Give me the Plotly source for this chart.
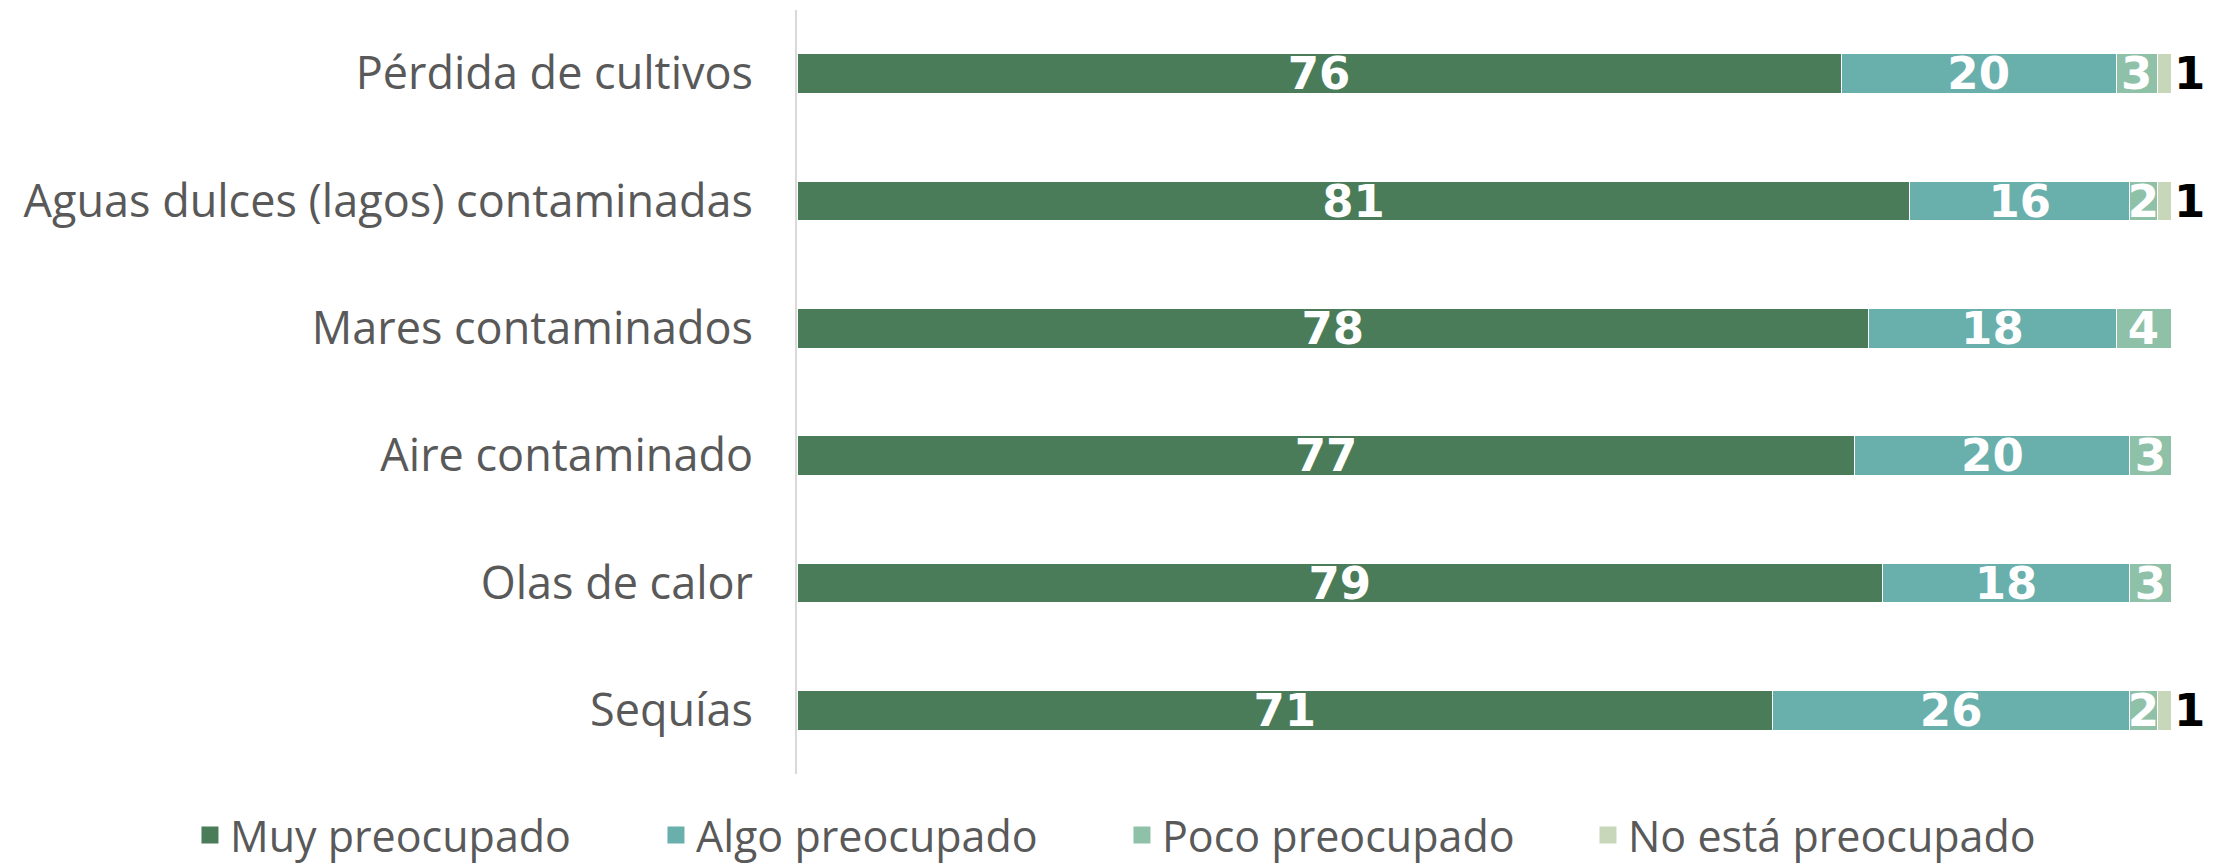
"""Stacked horizontal bars: preocupación por efectos del cambio climático."""

import plotly.graph_objects as go

categories = [
    "Pérdida de cultivos",
    "Aguas dulces (lagos) contaminadas",
    "Mares contaminados",
    "Aire contaminado",
    "Olas de calor",
    "Sequías",
]
muy = [76, 81, 78, 77, 79, 71]
algo = [20, 16, 18, 20, 18, 26]
poco = [3, 2, 4, 3, 3, 2]
nada = [1, 1, 0, 0, 0, 1]

series_names = ["Muy preocupado", "Algo preocupado", "Poco preocupado", "No está preocupado"]
series_colors = ["#4A7C59", "#69AFAC", "#8FC1A9", "#C8D7BA"]

LABEL_GREY = "#595959"
FONT = "Open Sans, sans-serif"
LABEL_FONT = "DejaVu Sans, sans-serif"

fig = go.Figure()
for name, vals, color in zip(series_names, [muy, algo, poco, nada], series_colors):
    last = name == "No está preocupado"
    fig.add_trace(go.Bar(
        y=categories,
        x=vals,
        name=name,
        orientation="h",
        marker=dict(color=color, line=dict(color="white", width=1)),
        text=[str(v) if v else "" for v in vals],
        textposition="outside" if last else "inside",
        insidetextanchor="middle",
        textangle=0,
        constraintext="none",
        cliponaxis=False,
        textfont=dict(family=LABEL_FONT, size=45, weight="bold",
                      color="black" if last else "white"),
        showlegend=False,
        hoverinfo="skip",
    ))

# legend-only entries, so the legend squares can be drawn a bit larger
for name, color in zip(series_names, series_colors):
    fig.add_trace(go.Bar(
        y=[None], x=[None],
        name=name,
        orientation="h",
        marker=dict(color=color, line=dict(color=color, width=5)),
        showlegend=True,
        hoverinfo="skip",
    ))

fig.update_layout(
    width=2226,
    height=880,
    barmode="stack",
    bargap=0.69,
    paper_bgcolor="white",
    plot_bgcolor="white",
    font=dict(family=FONT, color=LABEL_GREY, size=44),
    margin=dict(l=789, r=63, t=2, b=114),
    xaxis=dict(range=[0, 100], visible=False, fixedrange=True),
    yaxis=dict(
        categoryorder="array",
        categoryarray=categories[::-1],
        showline=True,
        linecolor="#D9D9D9",
        linewidth=2,
        showgrid=False,
        ticks="",
        ticklabelstandoff=33,
        tickfont=dict(family=FONT, size=45, color=LABEL_GREY),
    ),
    showlegend=True,
    legend=dict(
        orientation="h",
        x=-0.4418,
        xanchor="left",
        y=-0.080,
        yanchor="middle",
        entrywidth=421,
        entrywidthmode="pixels",
        font=dict(family=FONT, size=43, color=LABEL_GREY),
        traceorder="normal",
    ),
)

fig.write_html("out.html")
